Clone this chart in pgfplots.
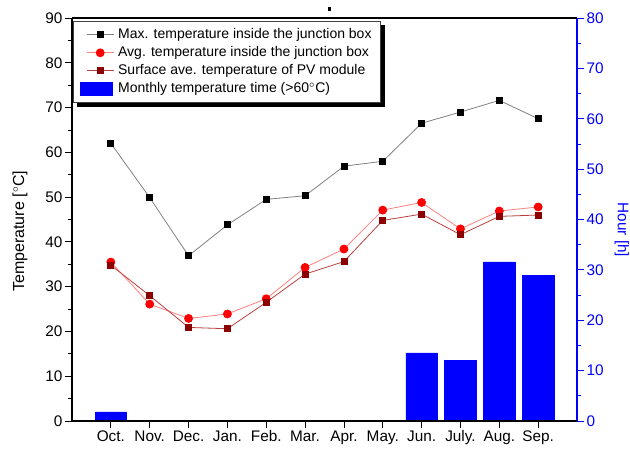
\documentclass[border=0pt]{standalone}
\usepackage{pgfplots}
\pgfplotsset{compat=1.18}
\usepackage{fontspec}
\setmainfont{Liberation Sans}
\definecolor{maxline}{HTML}{808080}
\definecolor{avgline}{HTML}{FF8080}
\definecolor{surfline}{HTML}{B84040}
\definecolor{surfmark}{HTML}{8B0000}
\begin{document}
\begin{tikzpicture}
\useasboundingbox (0,0) rectangle (472.5pt,339pt);
% ---------- right axis: bars ----------
\begin{axis}[
  at={(54pt,23.25pt)}, anchor=south west,
  width=378.75pt, height=302.25pt, scale only axis,
  xmin=-1, xmax=12, ymin=0, ymax=80,
  axis y line*=right, axis x line=none,
  ytick={0,10,...,80}, minor y tick num=1,
  tick align=outside,
  major tick length=5.5pt, minor tick length=3pt,
  y axis line style={blue, line width=0.8pt},
  every y tick/.style={blue, line width=0.6pt},
  every minor y tick/.style={blue, line width=0.6pt},
  yticklabel style={text=blue, font=\fontsize{11.5}{13}\selectfont, inner sep=1.5pt},
  /pgf/number format/assume math mode=true,
  ylabel={Hour [h]},
  ylabel style={at={(axis description cs:1.089,0.474)}, rotate=180, anchor=center, text=blue, font=\fontsize{11.5}{13}\selectfont},
]
\addplot[ybar, bar width=0.815, fill=blue, draw=blue] coordinates {
  (0,1.8) (8,13.5) (9,12.0) (10,31.6) (11,28.9)
};
\end{axis}
% ---------- left axis: temperatures ----------
\begin{axis}[
  at={(54pt,23.25pt)}, anchor=south west,
  width=378.75pt, height=302.25pt, scale only axis,
  xmin=-1, xmax=12, ymin=0, ymax=90,
  clip=false,
  axis x line*=box, axis y line*=left,
  xtick={0,...,11},
  xticklabels={Oct.,Nov.,Dec.,Jan.,Feb.,Mar.,Apr.,May.,Jun.,July.,Aug.,Sep.},
  xtick pos=left,
  ytick={0,10,...,90}, minor y tick num=1,
  tick align=outside,
  major tick length=5.5pt, minor tick length=3pt,
  axis line style={black, line width=0.8pt},
  every tick/.style={black, line width=0.6pt},
  every minor tick/.style={black, line width=0.6pt},
  ticklabel style={font=\fontsize{11.5}{13}\selectfont, inner sep=1.5pt},
  /pgf/number format/assume math mode=true,
  ylabel={Temperature [$^{\circ}$C]},
  ylabel style={at={(axis description cs:-0.103,0.471)}, anchor=center, font=\fontsize{12}{14}\selectfont},
  legend cell align=left,
  legend style={name=leg, at={(axis description cs:0.002,0.993)}, anchor=north west,
    draw=black!75, line width=0.5pt, fill=white,
    inner xsep=5pt, inner ysep=3.5pt, row sep=0pt, column sep=1.5pt,
    font=\fontsize{10.5}{12}\selectfont,
    nodes={inner sep=1.5pt, text height=8pt, text depth=2.5pt}},
  legend image code/.code={\path (0pt,0pt) (25pt,0pt);\draw[mark repeat=2, mark phase=2, line width=0.6pt] plot coordinates {(4.7pt,0pt) (14.85pt,0pt) (25pt,0pt)};},
]
\addplot[color=maxline, line width=0.6pt, mark=square*, mark size=2.25pt,
  mark options={fill=black, draw=black}] coordinates {
  (0,62.0) (1,49.9) (2,36.9) (3,43.8) (4,49.5) (5,50.3)
  (6,56.9) (7,58.0) (8,66.5) (9,69.0) (10,71.6) (11,67.5)
};
\addlegendentry{Max. temperature inside the junction box}
\addplot[color=avgline, line width=0.6pt, mark=*, mark size=3pt,
  mark options={fill=red, draw=red}] coordinates {
  (0,35.5) (1,26.1) (2,22.9) (3,23.9) (4,27.3) (5,34.3)
  (6,38.4) (7,47.1) (8,48.8) (9,42.9) (10,46.9) (11,47.8)
};
\addlegendentry{Avg. temperature inside the junction box}
\addplot[color=surfline, line width=0.6pt, mark=square*, mark size=2.25pt,
  mark options={fill=surfmark, draw=surfmark}] coordinates {
  (0,34.8) (1,28.0) (2,20.9) (3,20.6) (4,26.5) (5,32.8)
  (6,35.6) (7,44.8) (8,46.2) (9,41.6) (10,45.7) (11,46.0)
};
\addlegendentry{Surface ave. temperature of PV module}
\addlegendimage{legend image code/.code={\path (0pt,0pt) (25pt,0pt);\fill[blue] (0pt,-4.75pt) rectangle (23.7pt,4.75pt);}}
\addlegendentry{Monthly temperature time (>60$^{\circ}$C)}
\node[fill=black, inner sep=0pt, minimum width=2.2pt, minimum height=3pt] at (axis description cs:0.509,1.022) {};
\end{axis}
% legend shadow (visible L-shaped part)
\fill[black] ([xshift=3pt]leg.south west) rectangle ([xshift=3pt,yshift=-3pt]leg.south east);
\fill[black] ([yshift=-3pt]leg.north east) rectangle ([xshift=3pt]leg.south east);
\end{tikzpicture}
\end{document}
